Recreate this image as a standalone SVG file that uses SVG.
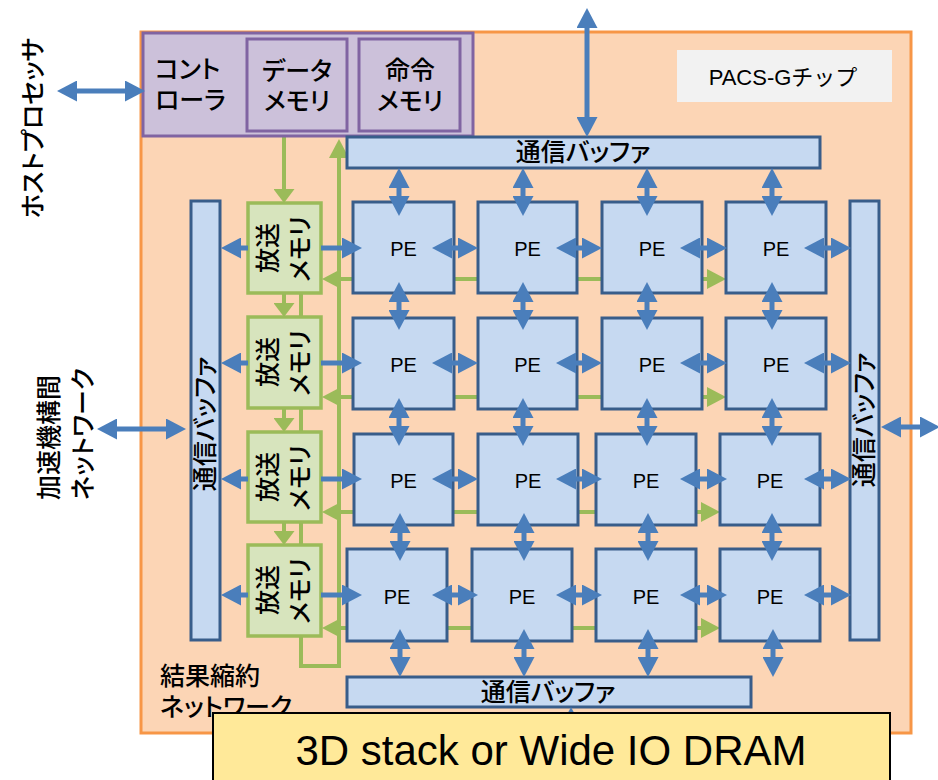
<svg xmlns="http://www.w3.org/2000/svg" width="938" height="780" viewBox="0 0 938 780">
<style>
.jp{font-family:"Noto Sans CJK JP","Noto Sans CJK SC",sans-serif;font-size:25px;font-weight:500;font-feature-settings:"palt";fill:#000}
.lat{font-family:"Liberation Sans","Noto Sans CJK JP",sans-serif;fill:#000}
.pe{fill:#C6D9F1;stroke:#385D8A;stroke-width:3}
.mem{fill:#D7E4BD;stroke:#9BBB59;stroke-width:3.5}
.ctl{fill:#CCC1DA;stroke:#8064A2;stroke-width:3}
.ba{stroke:#4A7EBB;stroke-width:5;fill:none}
.ga{stroke:#9BBB59;stroke-width:4;fill:none}
.bb{marker-start:url(#bh);marker-end:url(#bh)}
.be{marker-end:url(#bh)}
</style>
<defs>
<marker id="bh" viewBox="0 0 20 21" refX="10" refY="10.5" markerWidth="20" markerHeight="21" markerUnits="userSpaceOnUse" orient="auto-start-reverse"><path d="M0,0 L20,10.5 L0,21 z" fill="#4A7EBB"/></marker>
<marker id="gh" viewBox="0 0 19 20" refX="9" refY="10" markerWidth="19" markerHeight="20" markerUnits="userSpaceOnUse" orient="auto-start-reverse"><path d="M0,0 L19,10 L0,20 z" fill="#9BBB59"/></marker>
<marker id="gs" viewBox="0 0 14 21" refX="4" refY="10.5" markerWidth="14" markerHeight="21" markerUnits="userSpaceOnUse" orient="auto-start-reverse"><path d="M0,0 L14,10.5 L0,21 z" fill="#9BBB59"/></marker>
</defs>

<rect id="chip" x="141" y="32" width="770" height="701" fill="#FCD5B5" stroke="#F79646" stroke-width="3"/>

<g id="host-label"><text class="jp" text-anchor="middle" transform="translate(42,128) rotate(-90)">ホストプロセッサ</text></g>
<g id="net-label">
<text class="jp" transform="translate(58,500) rotate(-90)">加速機構間</text>
<text class="jp" transform="translate(92,500) rotate(-90)">ネットワーク</text>
</g>

<g id="pacs-label"><rect x="677" y="50" width="215" height="52" fill="#F2F2F2"/><text class="lat" x="783" y="85" font-size="22" text-anchor="middle">PACS-Gチップ</text></g>

<g id="connectors-reduction">
<path class="ga" d="M301,280 V666 H339 V149" marker-end="url(#gh)"/>
<line class="ga" x1="284" y1="136" x2="284" y2="193" marker-end="url(#gs)"/>
<line class="ga" x1="284" y1="293" x2="284" y2="307" marker-end="url(#gs)"/>
<line class="ga" x1="284" y1="408" x2="284" y2="422" marker-end="url(#gs)"/>
<line class="ga" x1="284" y1="522" x2="284" y2="535" marker-end="url(#gs)"/>
<line class="ga" x1="332" y1="279" x2="716" y2="279" marker-start="url(#gh)" marker-end="url(#gh)"/>
<line class="ga" x1="332" y1="397" x2="716" y2="397" marker-start="url(#gh)" marker-end="url(#gh)"/>
<line class="ga" x1="332" y1="512" x2="710" y2="512" marker-start="url(#gh)" marker-end="url(#gh)"/>
<line class="ga" x1="332" y1="628" x2="710" y2="628" marker-start="url(#gh)" marker-end="url(#gh)"/>
</g>

<g id="controller">
<rect class="ctl" x="143" y="33" width="330" height="103"/>
<text class="jp" x="155" y="78">コント</text>
<text class="jp" x="155" y="109">ローラ</text>
</g>
<g id="data-memory">
<rect class="ctl" x="247" y="39" width="100" height="92"/>
<text class="jp" x="297" y="80" text-anchor="middle">データ</text>
<text class="jp" x="297" y="110" text-anchor="middle">メモリ</text>
</g>
<g id="instr-memory">
<rect class="ctl" x="359" y="39" width="101" height="92"/>
<text class="jp" x="410" y="79" text-anchor="middle">命令</text>
<text class="jp" x="410" y="110" text-anchor="middle">メモリ</text>
</g>

<g id="buf-top"><rect class="pe" x="347" y="137" width="473" height="31"/><text class="jp" x="583" y="161" text-anchor="middle">通信バッファ</text></g>
<g id="buf-bottom"><rect class="pe" x="347" y="677" width="404" height="30"/><text class="jp" x="548" y="701" text-anchor="middle">通信バッファ</text></g>
<g id="buf-left"><rect class="pe" x="191" y="201" width="29" height="439"/><text class="jp" text-anchor="middle" transform="translate(214,424) rotate(-90)">通信バッファ</text></g>
<g id="buf-right"><rect class="pe" x="850" y="201" width="29" height="439"/><text class="jp" text-anchor="middle" transform="translate(873,420) rotate(-90)">通信バッファ</text></g>

<g id="bcast-1"><rect class="mem" x="248" y="203" width="73" height="90"/><text class="jp" text-anchor="middle" transform="translate(277,248) rotate(-90)">放送</text><text class="jp" text-anchor="middle" transform="translate(309,249) rotate(-90)">メモリ</text></g>
<g id="bcast-2"><rect class="mem" x="248" y="317" width="73" height="91"/><text class="jp" text-anchor="middle" transform="translate(277,362) rotate(-90)">放送</text><text class="jp" text-anchor="middle" transform="translate(309,363) rotate(-90)">メモリ</text></g>
<g id="bcast-3"><rect class="mem" x="248" y="432" width="73" height="90"/><text class="jp" text-anchor="middle" transform="translate(277,477) rotate(-90)">放送</text><text class="jp" text-anchor="middle" transform="translate(309,478) rotate(-90)">メモリ</text></g>
<g id="bcast-4"><rect class="mem" x="248" y="545" width="73" height="91"/><text class="jp" text-anchor="middle" transform="translate(277,590) rotate(-90)">放送</text><text class="jp" text-anchor="middle" transform="translate(309,591) rotate(-90)">メモリ</text></g>

<g id="pe-1-1"><rect class="pe" x="353" y="202" width="101" height="91"/><text class="lat" x="403.5" y="256" font-size="20" text-anchor="middle">PE</text></g>
<g id="pe-1-2"><rect class="pe" x="478" y="202" width="99" height="91"/><text class="lat" x="527.5" y="256" font-size="20" text-anchor="middle">PE</text></g>
<g id="pe-1-3"><rect class="pe" x="602" y="202" width="100" height="91"/><text class="lat" x="652" y="256" font-size="20" text-anchor="middle">PE</text></g>
<g id="pe-1-4"><rect class="pe" x="726" y="202" width="100" height="91"/><text class="lat" x="776" y="256" font-size="20" text-anchor="middle">PE</text></g>
<g id="pe-2-1"><rect class="pe" x="353" y="318" width="101" height="91"/><text class="lat" x="403.5" y="372" font-size="20" text-anchor="middle">PE</text></g>
<g id="pe-2-2"><rect class="pe" x="478" y="318" width="99" height="91"/><text class="lat" x="527.5" y="372" font-size="20" text-anchor="middle">PE</text></g>
<g id="pe-2-3"><rect class="pe" x="602" y="318" width="100" height="91"/><text class="lat" x="652" y="372" font-size="20" text-anchor="middle">PE</text></g>
<g id="pe-2-4"><rect class="pe" x="726" y="318" width="100" height="91"/><text class="lat" x="776" y="372" font-size="20" text-anchor="middle">PE</text></g>
<g id="pe-3-1"><rect class="pe" x="354" y="434" width="99" height="91"/><text class="lat" x="403.5" y="488" font-size="20" text-anchor="middle">PE</text></g>
<g id="pe-3-2"><rect class="pe" x="478" y="434" width="100" height="91"/><text class="lat" x="528" y="488" font-size="20" text-anchor="middle">PE</text></g>
<g id="pe-3-3"><rect class="pe" x="596" y="434" width="100" height="91"/><text class="lat" x="646" y="488" font-size="20" text-anchor="middle">PE</text></g>
<g id="pe-3-4"><rect class="pe" x="720" y="434" width="100" height="91"/><text class="lat" x="770" y="488" font-size="20" text-anchor="middle">PE</text></g>
<g id="pe-4-1"><rect class="pe" x="347" y="549" width="100" height="92"/><text class="lat" x="397" y="604" font-size="20" text-anchor="middle">PE</text></g>
<g id="pe-4-2"><rect class="pe" x="472" y="549" width="100" height="92"/><text class="lat" x="522" y="604" font-size="20" text-anchor="middle">PE</text></g>
<g id="pe-4-3"><rect class="pe" x="596" y="549" width="100" height="92"/><text class="lat" x="646" y="604" font-size="20" text-anchor="middle">PE</text></g>
<g id="pe-4-4"><rect class="pe" x="720" y="549" width="100" height="92"/><text class="lat" x="770" y="604" font-size="20" text-anchor="middle">PE</text></g>

<g id="reduction-label"><text class="jp" x="160" y="685">結果縮約</text><text class="jp" x="160" y="716">ネットワーク</text></g>

<g id="connectors-data">
<line class="ba bb" x1="67" y1="91" x2="135" y2="91"/>
<line class="ba bb" x1="107" y1="429" x2="176" y2="429"/>
<line class="ba bb" x1="891" y1="427" x2="930" y2="427"/>
<line class="ba bb" x1="587" y1="18" x2="587" y2="127"/>
<line class="ba bb" x1="571" y1="717" x2="571" y2="790"/>
<g>
<line class="ba bb" x1="399" y1="178" x2="399" y2="206"/><line class="ba bb" x1="523" y1="178" x2="523" y2="206"/><line class="ba bb" x1="647" y1="178" x2="647" y2="206"/><line class="ba bb" x1="772" y1="178" x2="772" y2="206"/>
<line class="ba bb" x1="399" y1="292" x2="399" y2="320"/><line class="ba bb" x1="523" y1="292" x2="523" y2="320"/><line class="ba bb" x1="647" y1="292" x2="647" y2="320"/><line class="ba bb" x1="772" y1="292" x2="772" y2="320"/>
<line class="ba bb" x1="399" y1="408" x2="399" y2="436"/><line class="ba bb" x1="523" y1="408" x2="523" y2="436"/><line class="ba bb" x1="647" y1="408" x2="647" y2="436"/><line class="ba bb" x1="772" y1="408" x2="772" y2="436"/>
<line class="ba bb" x1="400" y1="523" x2="400" y2="551"/><line class="ba bb" x1="524" y1="523" x2="524" y2="551"/><line class="ba bb" x1="648" y1="523" x2="648" y2="551"/><line class="ba bb" x1="772" y1="523" x2="772" y2="551"/>
<line class="ba bb" x1="400" y1="639" x2="400" y2="667"/><line class="ba bb" x1="524" y1="639" x2="524" y2="667"/><line class="ba bb" x1="648" y1="639" x2="648" y2="667"/><line class="ba bb" x1="773" y1="639" x2="773" y2="667"/>
</g>
<g>
<line class="ba bb" x1="442" y1="248" x2="468" y2="248"/><line class="ba bb" x1="566" y1="248" x2="592" y2="248"/><line class="ba bb" x1="690" y1="248" x2="717" y2="248"/><line class="ba bb" x1="814" y1="248" x2="841" y2="248"/>
<line class="ba bb" x1="442" y1="363" x2="468" y2="363"/><line class="ba bb" x1="566" y1="363" x2="592" y2="363"/><line class="ba bb" x1="690" y1="363" x2="717" y2="363"/><line class="ba bb" x1="814" y1="363" x2="841" y2="363"/>
<line class="ba bb" x1="442" y1="479" x2="468" y2="479"/><line class="ba bb" x1="566" y1="479" x2="592" y2="479"/><line class="ba bb" x1="690" y1="479" x2="717" y2="479"/><line class="ba bb" x1="814" y1="479" x2="841" y2="479"/>
<line class="ba bb" x1="442" y1="595" x2="468" y2="595"/><line class="ba bb" x1="566" y1="595" x2="592" y2="595"/><line class="ba bb" x1="690" y1="595" x2="717" y2="595"/><line class="ba bb" x1="814" y1="595" x2="841" y2="595"/>
</g>
<g>
<line class="ba be" x1="321" y1="248" x2="352" y2="248"/><line class="ba be" x1="248" y1="248" x2="231" y2="248"/>
<line class="ba be" x1="321" y1="363" x2="352" y2="363"/><line class="ba be" x1="248" y1="363" x2="231" y2="363"/>
<line class="ba be" x1="321" y1="479" x2="352" y2="479"/><line class="ba be" x1="248" y1="479" x2="231" y2="479"/>
<line class="ba be" x1="321" y1="595" x2="352" y2="595"/><line class="ba be" x1="248" y1="595" x2="231" y2="595"/>
</g>
</g>

<g id="dram"><rect x="213" y="713" width="677" height="80" fill="#FFE999" stroke="#000" stroke-width="2"/><text class="lat" x="551" y="765" font-size="42" text-anchor="middle">3D stack or Wide IO DRAM</text></g>
</svg>
